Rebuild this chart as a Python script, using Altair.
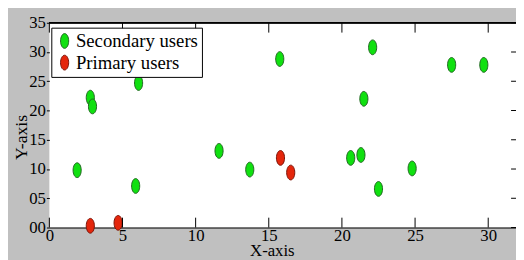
import altair as alt
import pandas as pd

# Secondary users (green)
sec_x = [1.9, 2.8, 2.95, 6.1, 5.9, 11.6, 13.7, 15.75, 22.1, 21.5, 27.5, 29.7, 20.6, 21.3, 22.5, 24.8]
sec_y = [9.8, 22.2, 20.7, 24.7, 7.1, 13.1, 9.9, 28.8, 30.8, 22.0, 27.8, 27.8, 11.9, 12.4, 6.6, 10.1]
# Primary users (red)
pri_x = [2.8, 4.7, 15.8, 16.5]
pri_y = [0.3, 0.8, 11.9, 9.4]

series = ["Secondary users", "Primary users"]
fills = ["#10e010", "#e4260c"]
edges = ["#226622", "#7a1206"]

x_ticks = [0, 5, 10, 15, 20, 25, 30]
y_ticks = [0, 5, 10, 15, 20, 25, 30, 35]

df = pd.DataFrame({
    "x": sec_x + pri_x,
    "y": sec_y + pri_y,
    "group": [series[0]] * len(sec_x) + [series[1]] * len(pri_x),
})
xt = pd.DataFrame({"x": x_ticks})
yt = pd.DataFrame({"y": y_ticks})

W, H = 474, 208
ELLIPSE = "M0,-1A0.55,1,0,1,1,0,1A0.55,1,0,1,1,0,-1Z"
FONT = "Liberation Serif"

xscale = alt.Scale(domain=[0, 31.9], nice=False, zero=False)
yscale = alt.Scale(domain=[0, 35], nice=False, zero=False)

xaxis = alt.Axis(
    title="X-axis", values=x_ticks, ticks=False, domain=True, domainColor="black",
    grid=False, labelFont=FONT, labelFontSize=17, labelColor="black", labelPadding=0,
    labelOverlap=False,
    titleFont=FONT, titleFontSize=17, titleFontWeight="normal", titleColor="black",
    titleX=226, titleY=28, titleAlign="center", titleBaseline="alphabetic",
    labelFlush=False)
yaxis = alt.Axis(
    title="Y-axis", values=y_ticks, format="02d", ticks=True, tickSize=3, tickColor="black",
    domain=False, grid=False, labelFont=FONT, labelFontSize=17, labelColor="black",
    labelPadding=1, labelOverlap=False, titleFont=FONT, titleFontSize=18,
    titleFontWeight="normal",
    titleColor="black", titleX=-23, titleY=116, titleAngle=270, titleAlign="center",
    titleBaseline="alphabetic", labelFlush=False)

points = alt.Chart(df).mark_point(
    shape=ELLIPSE, filled=True, size=225, opacity=1, strokeWidth=1
).encode(
    x=alt.X("x:Q", scale=xscale, axis=xaxis),
    y=alt.Y("y:Q", scale=yscale, axis=yaxis),
    fill=alt.Fill("group:N", scale=alt.Scale(domain=series, range=fills),
                  legend=alt.Legend(title=None)),
    stroke=alt.Stroke("group:N", scale=alt.Scale(domain=series, range=edges),
                      legend=alt.Legend(title=None)),
)

top_line = alt.Chart(xt).mark_rule(color="black", strokeWidth=1).encode(
    x=alt.value(0), x2=alt.value(W), y=alt.value(0)
)
top_ticks = alt.Chart(xt).mark_rule(color="black", strokeWidth=1).encode(
    x=alt.X("x:Q", scale=xscale, axis=xaxis), y=alt.value(0), y2=alt.value(10)
)
bottom_ticks = alt.Chart(xt).mark_rule(color="black", strokeWidth=1).encode(
    x=alt.X("x:Q", scale=xscale, axis=xaxis), y=alt.value(H - 10), y2=alt.value(H)
)
right_ticks = alt.Chart(yt).mark_rule(color="black", strokeWidth=1).encode(
    y=alt.Y("y:Q", scale=yscale, axis=yaxis), x=alt.value(W - 5), x2=alt.value(W)
)

chart = alt.layer(points, top_line, top_ticks, bottom_ticks, right_ticks).properties(
    width=W, height=H,
    background="#c0c0c0",
    autosize=alt.AutoSizeParams(type="none"),
    padding={"left": 42, "top": 13, "right": 0, "bottom": 31},
).configure(
    font=FONT
).configure_view(
    fill="white", stroke=None
).configure_legend(
    orient="none", legendX=2, legendY=5,
    strokeColor="black", fillColor="white", padding=4, cornerRadius=0,
    symbolType=ELLIPSE, symbolSize=225, symbolStrokeWidth=1, symbolOpacity=1,
    labelFont=FONT, labelFontSize=19, labelColor="black", labelOffset=2,
    rowPadding=2, labelLimit=300,
)

chart.save("out.html", embed_options={"renderer": "svg", "actions": False})
